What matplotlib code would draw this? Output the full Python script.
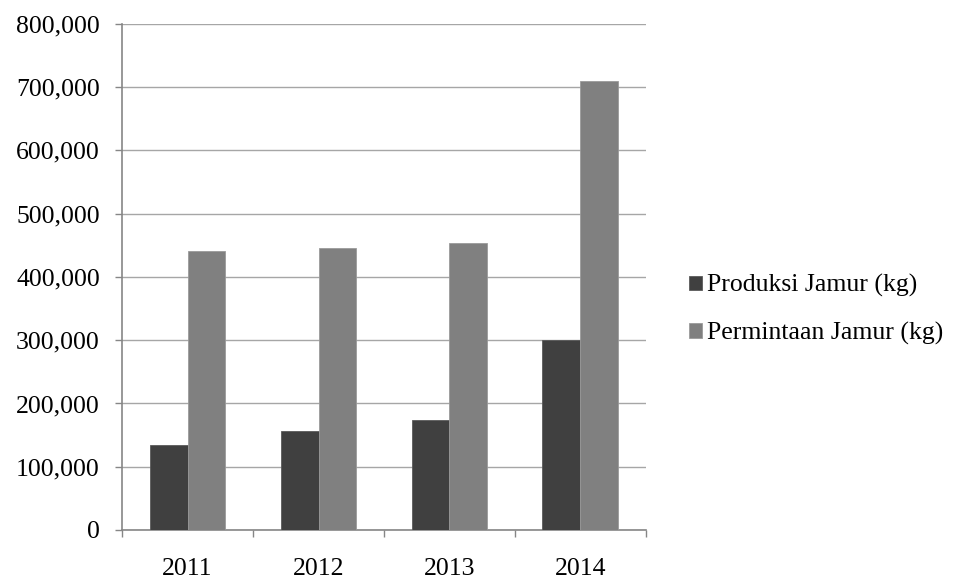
import numpy as np
import matplotlib
matplotlib.use("Agg")
import matplotlib.pyplot as plt
from matplotlib.ticker import FuncFormatter, FixedLocator

years = ["2011", "2012", "2013", "2014"]
produksi = [135000, 157000, 174000, 300000]
permintaan = [441000, 445000, 454000, 710000]
series_names = ["Produksi Jamur (kg)", "Permintaan Jamur (kg)"]
yticks = [0, 100000, 200000, 300000, 400000, 500000, 600000, 700000, 800000]

plt.rcParams["font.family"] = ["Liberation Serif", "DejaVu Serif"]
fs = 18.5

fig = plt.figure(figsize=(9.57, 5.81), dpi=100)
ax = fig.add_axes([0.1275, 0.0878, 0.5475, 0.871])

x = np.arange(len(years))
w = 0.29
ax.bar(x - w / 2, produksi, w, color="#404040", edgecolor="#5a5a5a", linewidth=0.6,
       label=series_names[0], zorder=3)
ax.bar(x + w / 2, permintaan, w, color="#808080", edgecolor="#9a9a9a", linewidth=0.6,
       label=series_names[1], zorder=3)

ax.set_xlim(-0.5, len(years) - 0.5)
ax.set_ylim(0, 800000)
ax.set_yticks(yticks)
ax.yaxis.set_major_formatter(FuncFormatter(lambda v, p: f"{v:,.0f}"))
ax.yaxis.grid(True, color="#a6a6a6", linewidth=1.0, zorder=0)

ax.xaxis.set_major_locator(FixedLocator(np.arange(-0.5, len(years), 1.0)))
ax.xaxis.set_major_formatter(FuncFormatter(lambda v, p: ""))
ax.set_xticks(x, years, minor=True)
ax.tick_params(axis="x", which="major", length=5, color="#868686", width=1)
ax.tick_params(axis="x", which="minor", length=0, pad=20, labelsize=fs)
ax.tick_params(axis="y", length=5, color="#868686", width=1, pad=11, labelsize=fs)

for s in ["top", "right"]:
    ax.spines[s].set_visible(False)
for s in ["left", "bottom"]:
    ax.spines[s].set_color("#868686")
    ax.spines[s].set_linewidth(1.2)

fig.legend(loc="center left", bbox_to_anchor=(0.72, 0.467), frameon=False,
           fontsize=fs, handlelength=0.5, handleheight=0.5, handletextpad=0.2,
           labelspacing=0.95, borderaxespad=0, borderpad=0)

fig.savefig("out.png", dpi=100)
